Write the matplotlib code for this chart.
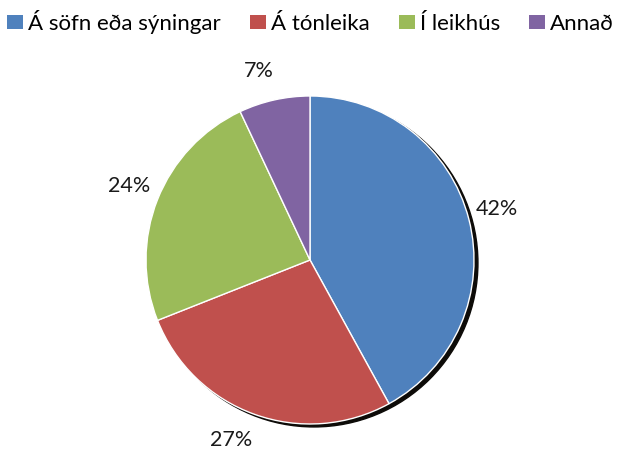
import matplotlib
matplotlib.use("Agg")
import matplotlib.pyplot as plt
from matplotlib.patches import Circle, Patch

categories = ["Á söfn eða sýningar", "Á tónleika", "Í leikhús", "Annað"]
values = [42, 27, 24, 7]
colors = ["#4F81BD", "#C0504D", "#9BBB59", "#8064A2"]

# label positions in pie units (layout)
label_pos = [(1.14, 0.31), (-0.482, -1.098), (-1.104, 0.451), (-0.311, 1.152)]

plt.rcParams['font.family'] = ['Lato', 'DejaVu Sans']

fig = plt.figure(figsize=(6.21, 4.5), dpi=100)
ax = fig.add_axes([0.2351, 0.0578, 0.5282, 0.7289])

# shadow
ax.add_patch(Circle((0.024, -0.018), 1.0, color='#0d0b08', zorder=0, clip_on=False))

wedges, texts, autotexts = ax.pie(
    values, colors=colors, startangle=90, counterclock=False,
    autopct=lambda p: f"{p:.0f}%", pctdistance=1.19,
    wedgeprops=dict(edgecolor='white', linewidth=1.0),
    textprops=dict(fontsize=15.5, color='#1a1a1a'), radius=1.0,
)
for w in wedges:
    w.set_zorder(1)
    w.set_clip_on(False)
for t, p in zip(autotexts, label_pos):
    t.set_position(p)
    t.set_clip_on(False)

ax.set_xlim(-1, 1)
ax.set_ylim(-1, 1)
ax.set_aspect('equal')
ax.axis('off')

handles = [Patch(facecolor=c, edgecolor='none') for c in colors]
fig.legend(handles, categories, loc='upper center', bbox_to_anchor=(0.5, 1.008),
           ncol=4, frameon=False, fontsize=16, handlelength=0.72, handleheight=0.59,
           handletextpad=0.23, columnspacing=1.3, borderaxespad=0.2)

fig.savefig("out.png", dpi=100)
